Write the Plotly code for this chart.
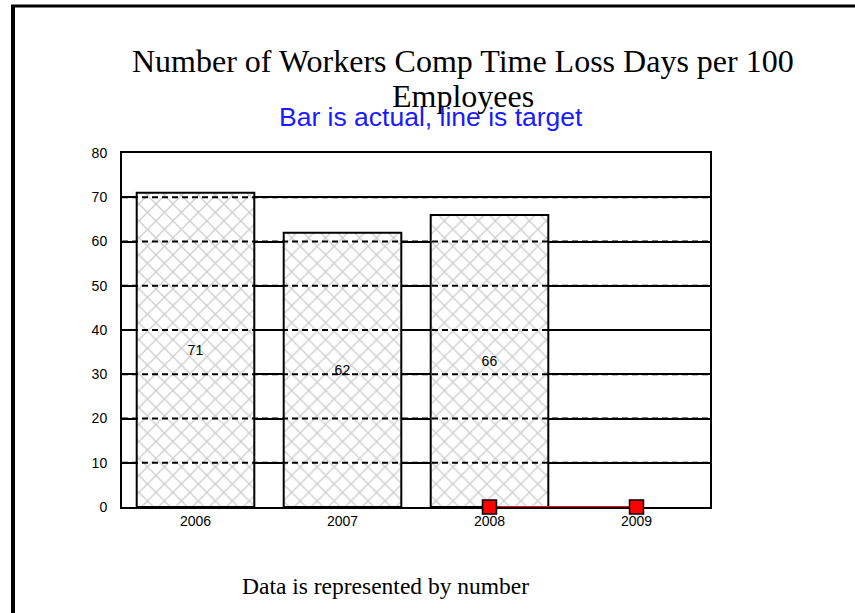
import plotly.graph_objects as go

years = ["2006", "2007", "2008", "2009"]
actual_years = ["2006", "2007", "2008"]
actual_values = [71, 62, 66]
target_years = ["2008", "2009"]
target_values = [0, 0]
y_ticks = [0, 10, 20, 30, 40, 50, 60, 70, 80]

W, H = 855, 613
L, R, T, B = 122, 145, 153, 106
PW, PH = W - L - R, H - T - B

def px(x):
    return (x - L) / PW

def py(y):
    return (H - B - y) / PH

fig = go.Figure()
fig.add_trace(go.Bar(
    x=actual_years, y=actual_values, width=0.8,
    marker=dict(color="white", line=dict(color="black", width=2),
                pattern=dict(shape="x", fgcolor="#9a9a9a", bgcolor="white", size=12, solidity=0.2)),
    text=[str(v) for v in actual_values], textposition="inside", insidetextanchor="middle",
    textfont=dict(family="Liberation Sans, Arial", size=14, color="black"),
    textangle=0, showlegend=False, hoverinfo="skip",
))
fig.add_trace(go.Scatter(
    x=target_years, y=target_values, mode="lines+markers",
    line=dict(color="red", width=2),
    marker=dict(symbol="square", size=14, color="red", line=dict(color="black", width=1.5)),
    cliponaxis=False, showlegend=False, hoverinfo="skip",
))

shapes = []
for t in y_ticks[1:-1]:
    shapes.append(dict(type="line", xref="paper", yref="y", x0=0, x1=1, y0=t, y1=t,
                       line=dict(color="black", width=2, dash="6px,4px"), layer="above"))
shapes.append(dict(type="line", xref="paper", yref="paper", x0=px(13), x1=px(13), y0=py(613), y1=py(5),
                   line=dict(color="black", width=4)))
shapes.append(dict(type="line", xref="paper", yref="paper", x0=px(11), x1=px(855), y0=py(6), y1=py(6),
                   line=dict(color="black", width=3)))

serif = "Liberation Serif, Times New Roman, serif"
annotations = [
    dict(text="Number of Workers Comp Time Loss Days per 100", xref="paper", yref="paper",
         x=px(463), y=py(61), xanchor="center", yanchor="middle", showarrow=False,
         font=dict(family=serif, size=32, color="black")),
    dict(text="Employees", xref="paper", yref="paper",
         x=px(463), y=py(96), xanchor="center", yanchor="middle", showarrow=False,
         font=dict(family=serif, size=32, color="black")),
    dict(text="Bar is actual, line is target", xref="paper", yref="paper",
         x=px(431), y=py(117), xanchor="center", yanchor="middle", showarrow=False,
         font=dict(family="Liberation Sans, Arial", size=26.5, color="#1a1aff")),
    dict(text="Data is represented by number", xref="paper", yref="paper",
         x=px(385), y=py(586), xanchor="center", yanchor="middle", showarrow=False,
         font=dict(family=serif, size=23.5, color="black")),
]

fig.update_layout(
    width=W, height=H, margin=dict(l=L, r=R, t=T, b=B, pad=0),
    paper_bgcolor="white", plot_bgcolor="white",
    shapes=shapes, annotations=annotations, bargap=0.2,
    font=dict(family="Liberation Sans, Arial", size=14, color="black"),
)
fig.update_xaxes(
    type="category", categoryorder="array", categoryarray=years, range=[-0.5, 3.5],
    showline=True, linecolor="black", linewidth=2, mirror=True, showgrid=False,
    ticks="", layer="below traces", tickfont=dict(size=14),
)
fig.update_yaxes(
    range=[0, 80], tickvals=y_ticks, showline=True, linecolor="black", linewidth=2, mirror=True,
    showgrid=True, gridcolor="black", gridwidth=2, zeroline=False, ticks="",
    ticklabelstandoff=10, layer="below traces", tickfont=dict(size=14),
)

fig.write_html("out.html", config={"displayModeBar": False},
               post_script="document.body.style.margin='0';document.body.style.overflow='hidden';")
